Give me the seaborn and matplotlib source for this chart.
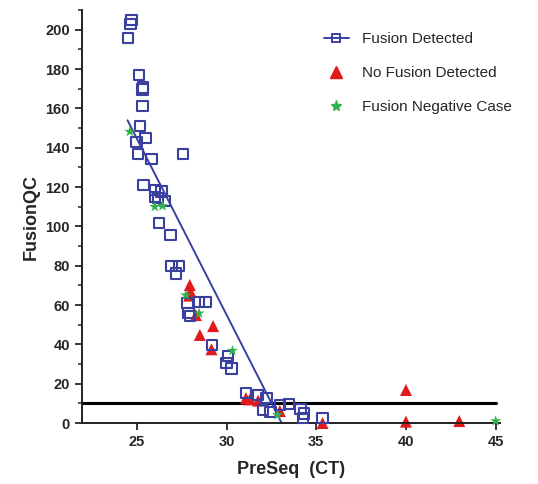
import matplotlib
matplotlib.use("Agg")
import matplotlib.pyplot as plt
import seaborn as sns
import pandas as pd
from matplotlib.lines import Line2D
from matplotlib.ticker import MultipleLocator

# Fusion Detected (open blue squares)
det_ct = [24.70, 24.65, 24.50, 25.13, 25.35, 25.32, 25.32, 25.17, 25.48, 24.98,
          25.07, 25.82, 27.56, 25.37, 26.00, 26.38, 26.00, 26.19, 26.56, 26.24,
          26.88, 26.93, 27.34, 27.17, 27.83, 28.47, 28.83, 27.88, 27.95, 29.20,
          30.07, 30.00, 30.28, 31.08, 31.76, 32.23, 32.04, 32.45, 32.97, 33.49,
          34.12, 34.33, 34.27, 35.35]
det_qc = [205.0, 203.0, 195.7, 177.0, 170.7, 169.7, 161.2, 151.2, 144.8, 143.1,
          137.0, 134.4, 136.7, 121.0, 118.5, 117.8, 115.1, 114.3, 113.0, 101.6,
          95.6, 80.0, 80.0, 76.1, 61.0, 61.4, 61.4, 55.8, 54.6, 39.7,
          34.2, 30.4, 27.8, 15.1, 14.2, 12.7, 6.6, 5.6, 9.2, 9.7,
          7.3, 4.9, 2.4, 2.7]

# No Fusion Detected (red triangles)
nofus_ct = [27.95, 27.99, 27.92, 28.29, 29.25, 28.51, 29.16, 31.08, 31.30, 31.76,
            32.97, 35.35, 40.00, 40.00, 42.97]
nofus_qc = [70.2, 66.8, 64.8, 54.9, 49.3, 44.8, 37.5, 12.6, 12.0, 11.4,
            6.1, 0.0, 16.8, 0.7, 1.0]

# Fusion Negative Case (green stars)
neg_ct = [24.61, 26.00, 26.43, 27.73, 28.47, 30.33, 32.84, 45.00]
neg_qc = [148.2, 110.0, 110.4, 65.0, 55.8, 36.8, 4.1, 1.0]

# fitted line and cutoff
fit_ct = [24.48, 33.07]
fit_qc = [154.0, 0.0]
cutoff = 10

blue = "#3a40a0"
red = "#e31a1c"
green = "#2fb34a"

det = pd.DataFrame({"ct": det_ct, "qc": det_qc})
nofus = pd.DataFrame({"ct": nofus_ct, "qc": nofus_qc})
neg = pd.DataFrame({"ct": neg_ct, "qc": neg_qc})
fit = pd.DataFrame({"ct": fit_ct, "qc": fit_qc})

sns.set_style("ticks")
plt.rcParams["font.family"] = ["Liberation Sans", "DejaVu Sans"]

fig = plt.figure(figsize=(5.38, 4.84), dpi=100)
ax = fig.add_axes([0.152, 0.126, 0.777, 0.853])

sns.lineplot(data=fit, x="ct", y="qc", color=blue, linewidth=1.4, ax=ax, zorder=2)
ax.axhline(cutoff, xmin=0, xmax=(45 - 21.93) / (45.23 - 21.93), color="black", linewidth=2.2, zorder=1)

sns.scatterplot(data=det, x="ct", y="qc", marker="s", s=55, facecolors="none",
                edgecolor=blue, linewidth=1.5, ax=ax, zorder=3, clip_on=False)
sns.scatterplot(data=nofus, x="ct", y="qc", marker="^", s=75, color=red,
                edgecolor="none", ax=ax, zorder=2.5, clip_on=False)
sns.scatterplot(data=neg, x="ct", y="qc", marker="*", s=70, color=green,
                edgecolor="none", ax=ax, zorder=4, clip_on=False)

ax.set_xlim(21.93, 45.23)
ax.set_ylim(0, 210)
ax.set_xticks([25, 30, 35, 40, 45])
ax.set_yticks(range(0, 201, 20))
ax.yaxis.set_minor_locator(MultipleLocator(10))
ax.tick_params(axis="both", which="major", direction="out", length=5, width=1.3,
               labelsize=10.5)
ax.tick_params(axis="y", which="minor", direction="out", length=3, width=1.1)
for lab in ax.get_xticklabels() + ax.get_yticklabels():
    lab.set_fontweight("bold")

sns.despine(ax=ax)
for side in ["left", "bottom"]:
    ax.spines[side].set_linewidth(1.4)
    ax.spines[side].set_color("#222222")

ax.set_xlabel("PreSeq  (CT)", fontsize=13, fontweight="bold", labelpad=9)
ax.set_ylabel("FusionQC", fontsize=13, fontweight="bold", labelpad=4)

handles = [
    Line2D([], [], color=blue, marker="s", markerfacecolor="none", markeredgecolor=blue,
           markersize=6, markeredgewidth=1.4, linewidth=1.4),
    Line2D([], [], color=red, marker="^", linestyle="none", markersize=8),
    Line2D([], [], color=green, marker="*", linestyle="none", markersize=8),
]
labels = ["Fusion Detected", "No Fusion Detected", "Fusion Negative Case"]
ax.legend(handles, labels, loc="upper left", bbox_to_anchor=(0.547, 0.98),
          frameon=False, fontsize=11, labelspacing=1.3, handlelength=1.6,
          handletextpad=0.9)

fig.savefig("out.png", dpi=100)
